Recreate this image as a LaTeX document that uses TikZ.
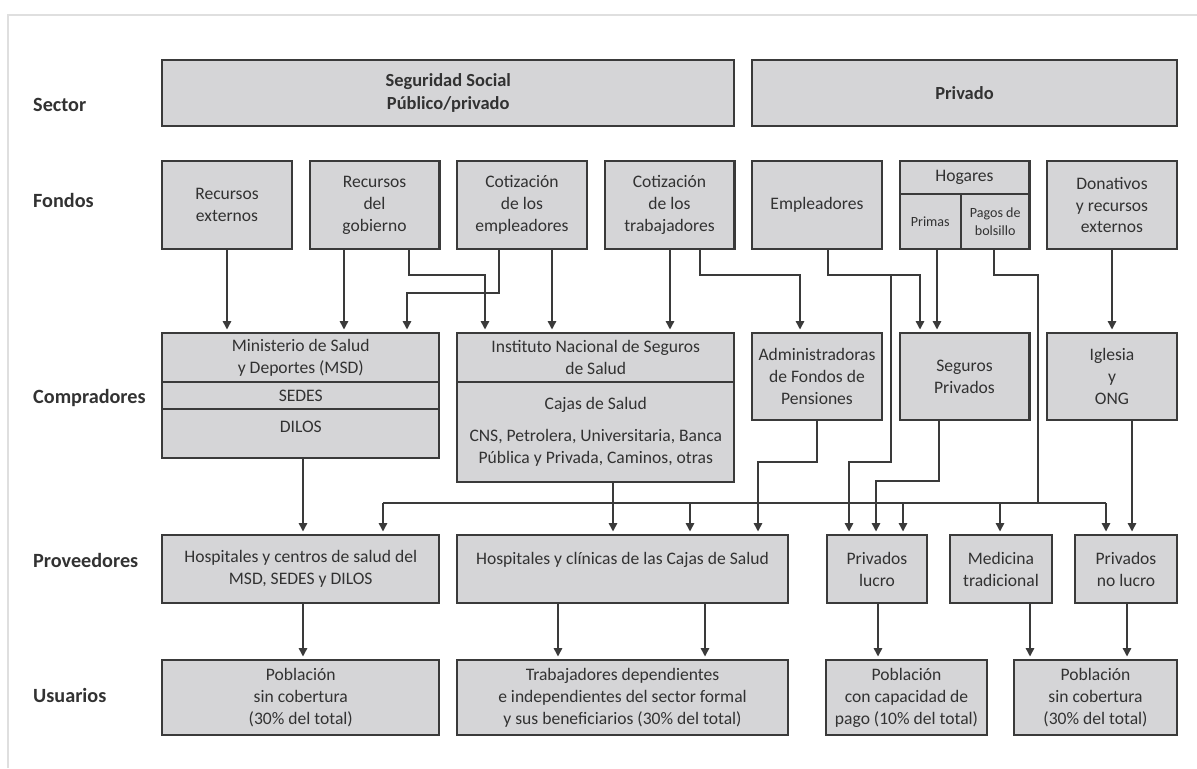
\documentclass[tikz,border=0pt]{standalone}
\usepackage{fontspec}
\setmainfont{Carlito}
\usetikzlibrary{arrows.meta}
\definecolor{boxfill}{RGB}{213,213,215}
\definecolor{boxline}{RGB}{58,58,58}
\definecolor{inkgray}{RGB}{50,50,50}

\begin{document}
\begin{tikzpicture}[x=0.02cm, y=-0.02cm,
  box/.style={draw=boxline, fill=boxfill, line width=1.15pt, outer sep=0pt, inner sep=2pt,
    align=center, text=inkgray, font=\fontsize{10}{12.5}\selectfont},
  col/.style={box, minimum width=2.6cm},
  fondo/.style={col, minimum height=1.76cm},
  comp/.style={col, minimum height=1.74cm},
  prov/.style={box, minimum height=1.36cm},
  usu/.style={box, minimum height=1.5cm},
  rowlabel/.style={anchor=west, text=inkgray, font=\fontsize{11.5}{13}\selectfont\bfseries},
  line/.style={draw=boxline, line width=0.85pt},
  arr/.style={line, shorten >=2pt, -{Triangle[length=4.8pt, width=4.8pt]}}]

  \useasboundingbox (0,0) rectangle (1197,768);
  \draw[gray!25, line width=1.6pt] (8,768) -- (8,15) -- (1197,15);

  % row labels
  \node[rowlabel] (lsector) at (27,105) {Sector};
  \node[rowlabel] (lfondos) at (27,200) {Fondos};
  \node[rowlabel] (lcomp) at (27,398) {Compradores};
  \node[rowlabel] (lprov) at (27,560) {Proveedores};
  \node[rowlabel] (lusu) at (27,695) {Usuarios};

  % sector
  \node[box, minimum width=11.45cm, minimum height=1.32cm, font=\fontsize{10.5}{13}\selectfont\bfseries] (segsoc) at (448.25,93) {Seguridad Social\\Público/privado};
  \node[box, minimum width=8.5cm, minimum height=1.32cm, font=\fontsize{10.5}{13}\selectfont\bfseries] (privado) at (964.5,93) {Privado};

  % fondos
  \node[fondo] (rext) at (227,205) {Recursos\\externos};
  \node[fondo] (rgob) at (374.5,205) {Recursos\\del\\gobierno};
  \node[fondo] (cemp) at (522,205) {Cotización\\de los\\empleadores};
  \node[fondo] (ctrab) at (669.5,205) {Cotización\\de los\\trabajadores};
  \node[fondo] (empl) at (817,205) {Empleadores};
  \node[col, minimum height=0.66cm] (hog) at (964.5,177.5) {Hogares};
  \node[box, minimum width=1.23cm, minimum height=1.1cm, font=\fontsize{8}{10}\selectfont] (primas) at (930.25,221.5) {Primas};
  \node[box, minimum width=1.37cm, minimum height=1.1cm, font=\fontsize{8}{10}\selectfont] (pagos) at (995.25,221.5) {Pagos de\\bolsillo};
  \node[fondo] (donat) at (1112,205) {Donativos\\y recursos\\externos};

  % compradores
  \node[box, minimum width=5.55cm, minimum height=0.98cm] (msd) at (300.75,357.5) {Ministerio de Salud\\y Deportes (MSD)};
  \node[box, minimum width=5.55cm, minimum height=0.54cm] (sedes) at (300.75,395.5) {SEDES};
  \node[box, minimum width=5.55cm, minimum height=0.98cm] (dilos) at (300.75,433.5) {\raisebox{8pt}{DILOS}};
  \node[box, minimum width=5.55cm, minimum height=0.98cm] (inst) at (595.75,357.5) {Instituto Nacional de Seguros\\de Salud};
  \node[box, minimum width=5.55cm, minimum height=2cm] (cajas) at (595.75,432) {Cajas de Salud\\[5.5pt]CNS, Petrolera, Universitaria, Banca\\Pública y Privada, Caminos, otras};
  \node[comp] (admin) at (817,376.5) {Administradoras\\de Fondos de\\Pensiones};
  \node[comp] (segpriv) at (964.5,376.5) {Seguros\\Privados};
  \node[comp] (iglesia) at (1112,376.5) {Iglesia\\y\\ONG};

  % proveedores
  \node[prov, minimum width=5.55cm] (hmsd) at (300.75,569) {Hospitales y centros de salud del\\MSD, SEDES y DILOS};
  \node[prov, minimum width=6.62cm] (hcajas) at (622.5,569) {Hospitales y clínicas de las Cajas de Salud\\\mbox{}};
  \node[prov, minimum width=2cm] (plucro) at (877,569) {Privados\\lucro};
  \node[prov, minimum width=2.04cm] (medtrad) at (1001,569) {Medicina\\tradicional};
  \node[prov, minimum width=2.04cm] (pnolucro) at (1126,569) {Privados\\no lucro};

  % usuarios
  \node[usu, minimum width=5.55cm] (usincob) at (300.75,697.5) {Población\\sin cobertura\\(30\% del total)};
  \node[usu, minimum width=6.62cm] (utrab) at (622.5,697.5) {Trabajadores dependientes\\e independientes del sector formal\\y sus beneficiarios (30\% del total)};
  \node[usu, minimum width=3.22cm] (upago) at (906.5,697.5) {Población\\con capacidad de\\pago (10\% del total)};
  \node[usu, minimum width=3.26cm] (usincobb) at (1095.5,697.5) {Población\\sin cobertura\\(30\% del total)};

  % levels of the elbows
  \coordinate (jogA) at (0,275);
  \coordinate (jogB) at (0,293);
  \coordinate (jogC) at (0,462);
  \coordinate (jogD) at (0,481);
  \coordinate (bus) at (0,503);

  % fondos -> compradores
  \draw[arr] (227,0 |- rext.south) -- (227,0 |- msd.north);
  \draw[arr] (344,0 |- rgob.south) -- (344,0 |- msd.north);
  \draw[arr] (409,0 |- rgob.south) -- (409,0 |- jogA) -- (485,0 |- jogA) -- (485,0 |- inst.north);
  \draw[arr] (499,0 |- cemp.south) -- (499,0 |- jogB) -- (407,0 |- jogB) -- (407,0 |- msd.north);
  \draw[arr] (552,0 |- cemp.south) -- (552,0 |- inst.north);
  \draw[arr] (670,0 |- ctrab.south) -- (670,0 |- inst.north);
  \draw[arr] (700,0 |- ctrab.south) -- (700,0 |- jogA) -- (800,0 |- jogA) -- (800,0 |- admin.north);
  \draw[arr] (828,0 |- empl.south) -- (828,0 |- jogA) -- (920,0 |- jogA) -- (920,0 |- segpriv.north);
  \draw[arr] (891,0 |- jogA) -- (891,0 |- jogC) -- (849,0 |- jogC) -- (849,0 |- plucro.north);
  \draw[arr] (937,0 |- primas.south) -- (937,0 |- segpriv.north);
  \draw[arr] (1112,0 |- donat.south) -- (1112,0 |- iglesia.north);

  % pagos de bolsillo -> proveedores
  \draw[line] (994,0 |- pagos.south) -- (994,0 |- jogA) -- (1038,0 |- jogA) -- (1038,0 |- bus);
  \draw[line] (383,0 |- bus) -- (1106,0 |- bus);
  \foreach \x/\nm in {383/hmsd, 690/hcajas, 903/plucro, 1000/medtrad, 1106/pnolucro}
    \draw[arr] (\x,0 |- bus) -- (\x,0 |- \nm.north);

  % compradores -> proveedores
  \draw[arr] (303,0 |- dilos.south) -- (303,0 |- hmsd.north);
  \draw[arr] (613,0 |- cajas.south) -- (613,0 |- hcajas.north);
  \draw[arr] (817,0 |- admin.south) -- (817,0 |- jogC) -- (758,0 |- jogC) -- (758,0 |- hcajas.north);
  \draw[arr] (939,0 |- segpriv.south) -- (939,0 |- jogD) -- (876,0 |- jogD) -- (876,0 |- plucro.north);
  \draw[arr] (1132,0 |- iglesia.south) -- (1132,0 |- pnolucro.north);

  % proveedores -> usuarios
  \draw[arr] (303,0 |- hmsd.south) -- (303,0 |- usincob.north);
  \draw[arr] (558,0 |- hcajas.south) -- (558,0 |- utrab.north);
  \draw[arr] (705,0 |- hcajas.south) -- (705,0 |- utrab.north);
  \draw[arr] (878,0 |- plucro.south) -- (878,0 |- upago.north);
  \draw[arr] (1030,0 |- medtrad.south) -- (1030,0 |- usincobb.north);
  \draw[arr] (1127,0 |- pnolucro.south) -- (1127,0 |- usincobb.north);

\end{tikzpicture}
\end{document}
